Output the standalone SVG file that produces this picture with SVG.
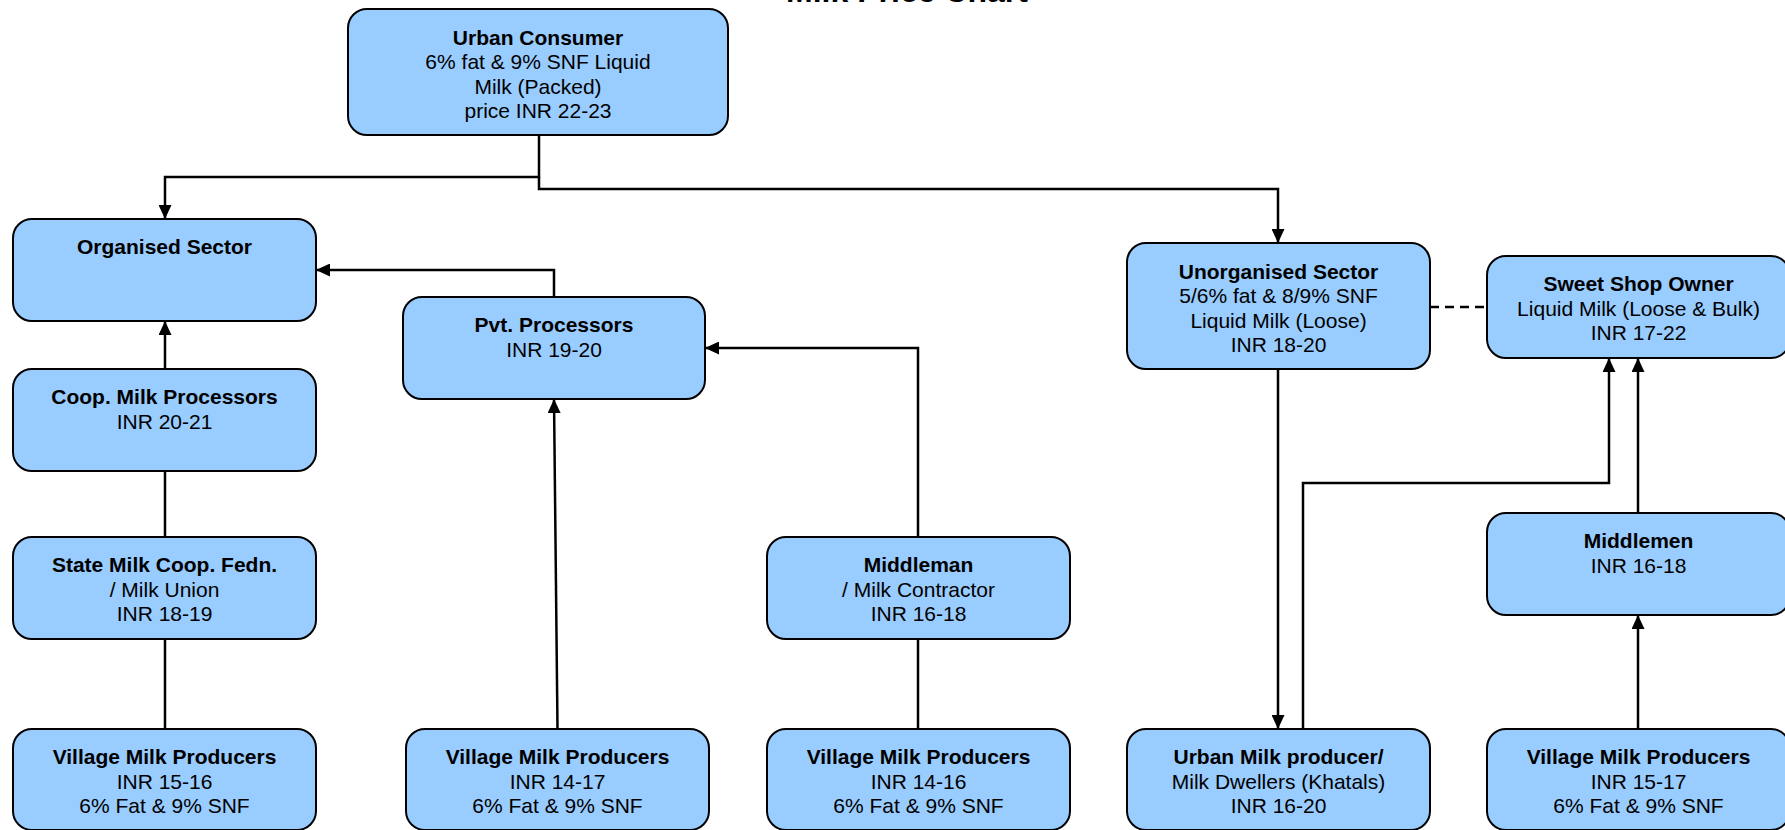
<svg xmlns="http://www.w3.org/2000/svg" width="1785" height="830" viewBox="0 0 1785 830">
<defs>
<style>
.box{fill:#99CCFF;stroke:#000;stroke-width:2}
text{font-family:"Liberation Sans",Arial,sans-serif;font-size:21px;fill:#000;text-anchor:middle}
.b{font-weight:bold}
.ln{fill:none;stroke:#000;stroke-width:2.5}
.dash{fill:none;stroke:#000;stroke-width:2.5;stroke-dasharray:9,6}
</style>
<marker id="arr" viewBox="0 0 14 13" markerWidth="14" markerHeight="13" refX="14" refY="6.5" orient="auto" markerUnits="userSpaceOnUse">
<path d="M0,0 L14,6.5 L0,13 z" fill="#000"/>
</marker>
</defs>
<rect width="1785" height="830" fill="#fff"/>
<text x="907" y="2" class="b" style="font-size:32px">Milk Price Chart</text>

<g id="connectors">
<path class="ln" d="M539,135 V177 H165 V219" marker-end="url(#arr)"/>
<path class="ln" d="M539,177 V189 H1278 V243" marker-end="url(#arr)"/>
<path class="ln" d="M165,369 V321" marker-end="url(#arr)"/>
<path class="ln" d="M165,537 V471"/>
<path class="ln" d="M165,729 V639"/>
<path class="ln" d="M554,297 V270 H316" marker-end="url(#arr)"/>
<path class="ln" d="M557.5,729 L554,399" marker-end="url(#arr)"/>
<path class="ln" d="M918,537 V348 H705" marker-end="url(#arr)"/>
<path class="ln" d="M918,729 V639"/>
<path class="ln" d="M1278,369 V729" marker-end="url(#arr)"/>
<path class="ln" d="M1303,729 V483 H1609 V358" marker-end="url(#arr)"/>
<path class="ln" d="M1638,513 V358" marker-end="url(#arr)"/>
<path class="ln" d="M1638,729 V615" marker-end="url(#arr)"/>
<path class="dash" d="M1430,307 H1487"/>
</g>

<g id="urban-consumer">
<rect class="box" x="348" y="9" width="380" height="126" rx="19"/>
<text x="538" y="45" class="b">Urban Consumer</text>
<text x="538" y="69">6% fat &amp; 9% SNF Liquid</text>
<text x="538" y="93.5">Milk (Packed)</text>
<text x="538" y="118">price INR 22-23</text>
</g>

<g id="organised-sector">
<rect class="box" x="13" y="219" width="303" height="102" rx="19"/>
<text x="164.5" y="254" class="b">Organised Sector</text>
</g>

<g id="coop-milk-processors">
<rect class="box" x="13" y="369" width="303" height="102" rx="19"/>
<text x="164.5" y="404" class="b">Coop. Milk Processors</text>
<text x="164.5" y="428.5">INR 20-21</text>
</g>

<g id="state-milk-coop">
<rect class="box" x="13" y="537" width="303" height="102" rx="19"/>
<text x="164.5" y="572" class="b">State Milk Coop. Fedn.</text>
<text x="164.5" y="596.5">/ Milk Union</text>
<text x="164.5" y="621">INR 18-19</text>
</g>

<g id="village-1">
<rect class="box" x="13" y="729" width="303" height="101" rx="19"/>
<text x="164.5" y="764" class="b">Village Milk Producers</text>
<text x="164.5" y="788.5">INR 15-16</text>
<text x="164.5" y="813">6% Fat &amp; 9% SNF</text>
</g>

<g id="pvt-processors">
<rect class="box" x="403" y="297" width="302" height="102" rx="19"/>
<text x="554" y="332" class="b">Pvt. Processors</text>
<text x="554" y="356.5">INR 19-20</text>
</g>

<g id="village-2">
<rect class="box" x="406" y="729" width="303" height="101" rx="19"/>
<text x="557.5" y="764" class="b">Village Milk Producers</text>
<text x="557.5" y="788.5">INR 14-17</text>
<text x="557.5" y="813">6% Fat &amp; 9% SNF</text>
</g>

<g id="middleman">
<rect class="box" x="767" y="537" width="303" height="102" rx="19"/>
<text x="918.5" y="572" class="b">Middleman</text>
<text x="918.5" y="596.5">/ Milk Contractor</text>
<text x="918.5" y="621">INR 16-18</text>
</g>

<g id="village-3">
<rect class="box" x="767" y="729" width="303" height="101" rx="19"/>
<text x="918.5" y="764" class="b">Village Milk Producers</text>
<text x="918.5" y="788.5">INR 14-16</text>
<text x="918.5" y="813">6% Fat &amp; 9% SNF</text>
</g>

<g id="unorganised-sector">
<rect class="box" x="1127" y="243" width="303" height="126" rx="19"/>
<text x="1278.5" y="279" class="b">Unorganised Sector</text>
<text x="1278.5" y="303">5/6% fat &amp; 8/9% SNF</text>
<text x="1278.5" y="327.5">Liquid Milk (Loose)</text>
<text x="1278.5" y="352">INR 18-20</text>
</g>

<g id="sweet-shop-owner">
<rect class="box" x="1487" y="256" width="303" height="102" rx="19"/>
<text x="1638.5" y="291" class="b">Sweet Shop Owner</text>
<text x="1638.5" y="315.5">Liquid Milk (Loose &amp; Bulk)</text>
<text x="1638.5" y="340">INR 17-22</text>
</g>

<g id="middlemen">
<rect class="box" x="1487" y="513" width="303" height="102" rx="19"/>
<text x="1638.5" y="548" class="b">Middlemen</text>
<text x="1638.5" y="572.5">INR 16-18</text>
</g>

<g id="urban-milk-producer">
<rect class="box" x="1127" y="729" width="303" height="101" rx="19"/>
<text x="1278.5" y="764" class="b">Urban Milk producer/</text>
<text x="1278.5" y="788.5">Milk Dwellers (Khatals)</text>
<text x="1278.5" y="813">INR 16-20</text>
</g>

<g id="village-5">
<rect class="box" x="1487" y="729" width="303" height="101" rx="19"/>
<text x="1638.5" y="764" class="b">Village Milk Producers</text>
<text x="1638.5" y="788.5">INR 15-17</text>
<text x="1638.5" y="813">6% Fat &amp; 9% SNF</text>
</g>
</svg>
